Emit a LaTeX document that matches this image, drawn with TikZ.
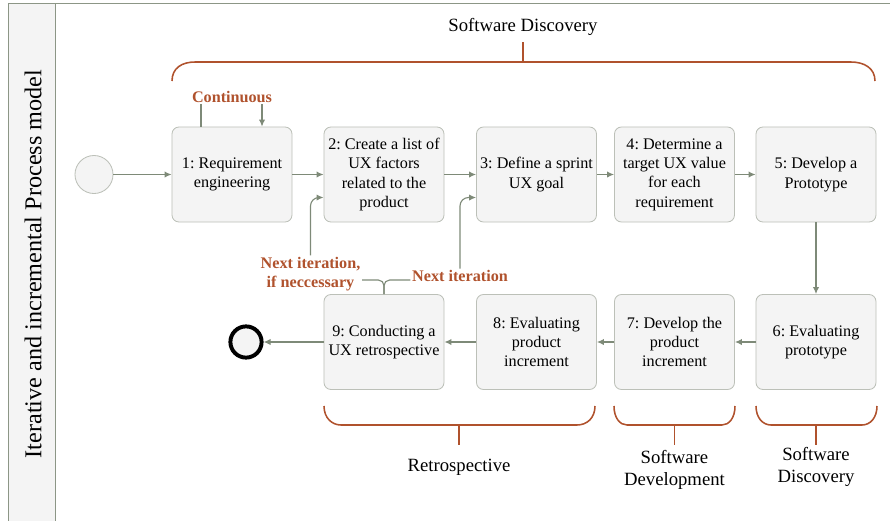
\documentclass[tikz,border=0pt]{standalone}
\usepackage{fontspec}
\setmainfont{Liberation Serif}
\usetikzlibrary{arrows.meta}
\frenchspacing
\definecolor{boxfill}{HTML}{F4F4F4}
\definecolor{boxline}{HTML}{BCC0B8}
\definecolor{flowc}{HTML}{7E8A78}
\definecolor{framec}{HTML}{8C9686}
\definecolor{bracec}{HTML}{B0522D}
\begin{document}
\begin{tikzpicture}[x=0.025cm, y=-0.025cm, font=\fontsize{11.5}{13.8}\selectfont, line join=round, >={Latex[length=5pt,width=4.5pt]},
  task/.style={draw=boxline, fill=boxfill, line width=0.6pt, rounded corners=5pt, minimum width=3cm, minimum height=2.375cm, align=center, inner sep=0pt},
  flow/.style={draw=flowc, line width=0.8pt, ->},
  line/.style={draw=flowc, line width=0.8pt},
  brace/.style={draw=bracec, line width=1.1pt},
  note/.style={text=bracec, font=\fontsize{11.5}{13.8}\selectfont\bfseries, align=center, inner sep=1pt},
  phase/.style={font=\fontsize{13.3}{15.8}\selectfont, align=center}]
\useasboundingbox (0,0) rectangle (890,521);
% lane
\fill[boxfill] (8.5,3.3) rectangle (55.5,521);
\draw[framec, line width=1.1pt] (890,3.3) -- (8.5,3.3) -- (8.5,521) (55.5,3.3) -- (55.5,521);
\node[rotate=90, font=\fontsize{17.2}{20}\selectfont] (lane) at (33,264) {Iterative and incremental Process model};
% events
\node[circle, draw=boxline, fill=boxfill, line width=0.6pt, minimum size=0.95cm, inner sep=0pt] (start) at (94,174.5) {};
\node[circle, draw=black, fill=boxfill, line width=2.8pt, minimum size=0.78cm, inner sep=0pt] (stop) at (246,342) {};
% tasks
\node[task] (n1) at (232,174.5) {1: Requirement\\engineering};
\node[task] (n2) at (384,174.5) {2: Create a list of\\UX factors\\related to the\\product};
\node[task] (n3) at (536.5,174.5) {3: Define a sprint\\UX goal};
\node[task] (n4) at (674.5,174.5) {4: Determine a\\target UX value\\for each\\requirement};
\node[task] (n5) at (816,174.5) {5: Develop a\\Prototype};
\node[task] (n6) at (816,342) {6: Evaluating\\prototype};
\node[task] (n7) at (674.5,342) {7: Develop the\\product\\increment};
\node[task] (n8) at (536.5,342) {8: Evaluating\\product\\increment};
\node[task] (n9) at (384,342) {9: Conducting a\\UX retrospective};
% flows
\draw[flow] (start) -- (n1);
\draw[flow] (n1) -- (n2);
\draw[flow] (n2) -- (n3);
\draw[flow] (n3) -- (n4);
\draw[flow] (n4) -- (n5);
\draw[flow] (n5) -- (n6);
\draw[flow] (n6) -- (n7);
\draw[flow] (n7) -- (n8);
\draw[flow] (n8) -- (n9);
\draw[flow] (n9) -- (stop);
% loops
\node[note] (cont) at (232,97) {Continuous};
\draw[line] ([xshift=-0.775cm]n1.north) -- ([xshift=-0.775cm]cont.south);
\draw[flow] ([xshift=0.75cm]cont.south) -- ([xshift=0.75cm]n1.north);
\node[note] (itA) at (310.5,274) {Next iteration,\\if neccessary};
\node[note] (itB) at (460,276) {Next iteration};
\coordinate (fork) at (384,280);
\draw[line, rounded corners=4pt] (itA.east |- fork) -| (n9.north);
\draw[line, rounded corners=4pt] (itB.west |- fork) -| (n9.north);
\draw[flow, rounded corners=6pt] (itA.north) |- ([yshift=-0.575cm]n2.west);
\draw[flow, rounded corners=6pt] (itB.north) |- ([yshift=-0.575cm]n3.west);
% phases
\draw[brace] (172,81) .. controls (172,68) and (182,62) .. (195,62) -- (851,62) .. controls (864,62) and (875,68) .. (875,81);
\draw[brace] (523,62) -- (523,42);
\node[phase] (top) at (523,27) {Software Discovery};
\draw[brace] (324,406) .. controls (324,418) and (332,425) .. (341,425) -- (577,425) .. controls (587,425) and (595,418) .. (595,406);
\draw[brace] (459,425) -- (459,445);
\node[phase] (retro) at (459,467) {Retrospective};
\draw[brace] (614,406) .. controls (614,418) and (620,425) .. (627,425) -- (722,425) .. controls (729,425) and (735,418) .. (735,406);
\draw[brace] (674.5,425) -- (674.5,445);
\node[phase] (dev) at (674.5,470) {Software\\Development};
\draw[brace] (756,406) .. controls (756,418) and (763,425) .. (771,425) -- (862,425) .. controls (870,425) and (877,418) .. (877,406);
\draw[brace] (816,425) -- (816,445);
\node[phase] (disc) at (816,467) {Software\\Discovery};
\end{tikzpicture}
\end{document}
